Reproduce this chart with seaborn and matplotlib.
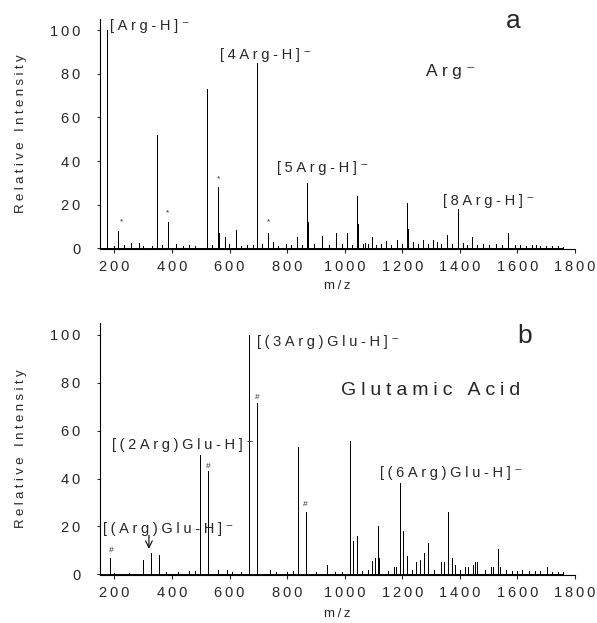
import numpy as np
import pandas as pd
import matplotlib
matplotlib.use('Agg')
import matplotlib.pyplot as plt
import seaborn as sns

sns.set_theme(style="ticks")
plt.rcParams['font.family'] = ['Liberation Sans', 'DejaVu Sans']

# panel a - Arg- cluster spectrum (m/z, relative intensity)
arg_mz = [151, 174, 175, 198, 212, 214, 232, 258, 286, 300, 330, 348, 349, 365,
          385, 387, 414, 440, 460, 480, 521, 522, 540, 561, 562, 585, 599, 622,
          640, 660, 680, 695, 696, 712, 734, 750, 770, 796, 815, 834, 850, 869,
          873, 893, 921, 945, 970, 990, 1008, 1025, 1044, 1047, 1062, 1070, 1080,
          1094, 1110, 1125, 1143, 1160, 1181, 1200, 1218, 1220, 1238, 1255, 1271,
          1290, 1308, 1321, 1335, 1355, 1372, 1392, 1410, 1425, 1442, 1460, 1480,
          1500, 1525, 1545, 1566, 1590, 1610, 1630, 1650, 1665, 1680, 1700, 1720,
          1740, 1760]
arg_int = [35, 100, 9, 1, 8, 6, 1.5, 2.5, 2.5, 1, 1, 52, 4, 1.5,
           9, 12, 2, 1, 1.5, 1, 73, 21, 1.5, 28, 7, 5, 2, 8.5,
           1, 1.5, 1.5, 85, 29, 2, 7, 3, 1, 2, 1.5, 5, 1.5, 30,
           12, 2, 5.5, 1.5, 7, 2, 7, 1.5, 24, 11, 2, 2.5, 2,
           5, 1.5, 2, 3.5, 1.5, 4, 2, 21, 9, 3, 2, 4,
           2, 4, 3, 2, 6, 2, 18, 2.5, 1.5, 5, 1.5, 2,
           1.5, 2, 1.5, 7, 1.5, 1.5, 1, 1.5, 1.5, 1, 1, 1,
           1, 0.8]

# panel b - Arg / glutamic acid cluster spectrum
glu_mz = [151, 185, 200, 250, 300, 328, 355, 380, 420, 460, 480, 497, 498,
          525, 526, 560, 590, 610, 640, 668, 669, 696, 697, 740, 760, 800,
          820, 838, 839, 866, 867, 900, 939, 966, 990, 1018, 1030, 1044, 1060,
          1080, 1094, 1105, 1117, 1118, 1150, 1172, 1178, 1191, 1192, 1204, 1216,
          1235, 1247, 1260, 1274, 1277, 1289, 1310, 1334, 1346, 1359, 1360, 1374,
          1383, 1400, 1418, 1430, 1445, 1452, 1460, 1487, 1507, 1516, 1532, 1541,
          1560, 1580, 1600, 1617, 1640, 1660, 1680, 1703, 1720, 1740, 1760]
glu_int = [57, 7, 0.5, 0.5, 6, 9, 8, 1, 0.8, 1.2, 1.5, 50, 20,
           43, 8, 2, 2, 1, 1, 100, 30, 71.5, 5, 2, 1, 1,
           1.5, 53, 16, 26, 8, 1, 4, 1, 1, 55.5, 14, 16, 1.5,
           2, 5.5, 7, 20, 7, 1.5, 3, 3, 38, 24, 18, 7.5,
           2, 5, 6, 8.5, 9, 13, 2, 5, 5, 26, 10, 7,
           4, 2, 3, 3, 4, 5, 5, 2, 3, 3, 10.5, 3,
           2, 1.5, 1.5, 2, 1.5, 1.5, 1.5, 3, 1, 1, 0.8]

# peak labels: (text, m/z, intensity) - left edge of text
arg_labels = [('[Arg-H]⁻', 185, 102), ('[4Arg-H]⁻', 567, 88.5),
              ('[5Arg-H]⁻', 765, 37), ('[8Arg-H]⁻', 1341, 21.5)]
glu_labels = [('[(3Arg)Glu-H]⁻', 695, 97), ('[(2Arg)Glu-H]⁻', 192, 54),
              ('[(Arg)Glu-H]⁻', 160, 19), ('[(6Arg)Glu-H]⁻', 1123, 42.5)]
arg_stars = [(223, 12), (383, 16.4), (560, 32), (737, 12)]
glu_hash = [(188, 10), (525, 45), (695, 74), (862, 29)]

xticks = [200, 400, 600, 800, 1000, 1200, 1400, 1600, 1800]
yticks = [0, 20, 40, 60, 80, 100]


def spaced(s, gap='\u2005'):
    return gap.join(s)


def sticks(mz, inten):
    rows = []
    for m, i in sorted(zip(mz, inten)):
        rows += [(m, 0), (m, i), (m, 0)]
    return pd.DataFrame(rows, columns=['mz', 'intensity'])


def draw_panel(ax, mz, inten, xlab_y):
    df = sticks(mz, inten)
    sns.lineplot(data=df, x='mz', y='intensity', sort=False, estimator=None,
                 color='black', lw=0.7, ax=ax)
    ax.set_xlim(150, 1800)
    ax.set_ylim(-0.3, 105)
    ax.set_xticks(xticks)
    ax.set_xticklabels([spaced(str(t), '\u2009') for t in xticks], fontsize=10.5)
    ax.set_yticks(yticks)
    ax.set_yticklabels([spaced(str(t), '\u2009') for t in yticks], fontsize=10.5)
    ax.tick_params(axis='x', length=3, width=0.8, pad=5, direction='out')
    ax.tick_params(axis='y', length=2, width=0.8, pad=12, direction='out')
    ax.set_xlabel(spaced('m/z', '\u2009'), fontsize=9.5)
    ax.xaxis.set_label_coords(0.5, xlab_y)
    ax.set_ylabel(spaced('Relative Intensity'), fontsize=9.5, labelpad=17)
    for s in ['left', 'bottom']:
        ax.spines[s].set_linewidth(0.8)
        ax.spines[s].set_color('black')
    sns.despine(ax=ax)


fig = plt.figure(figsize=(5.97, 6.23), dpi=100)
ax1 = fig.add_axes([0.1675, 0.6003, 0.7956, 0.369])
ax2 = fig.add_axes([0.1675, 0.077, 0.7956, 0.4045])

draw_panel(ax1, arg_mz, arg_int, -0.135)
draw_panel(ax2, glu_mz, glu_int, -0.13)

for txt, x, y in arg_labels:
    ax1.text(x, y, spaced(txt), fontsize=10.5, ha='left', va='center', clip_on=False)
for x, y in arg_stars:
    ax1.text(x, y, '*', fontsize=6, ha='center', va='center')
ax1.text(1584, 104, 'a', fontsize=19, ha='center', va='center', clip_on=False)
ax1.text(1369, 81, spaced('Arg⁻'), fontsize=12.5, ha='center', va='center')

for txt, x, y in glu_labels:
    ax2.text(x, y, spaced(txt), fontsize=10.5, ha='left', va='center', clip_on=False)
for x, y in glu_hash:
    ax2.text(x, y, '#', fontsize=6, ha='center', va='center')
ax2.annotate('', xy=(320, 9.5), xytext=(320, 17.5),
             arrowprops=dict(arrowstyle='->', lw=0.8, color='black'))
ax2.text(1626, 99.6, 'b', fontsize=19, ha='center', va='center', clip_on=False)
ax2.text(1300, 77, spaced('Glutamic Acid'), fontsize=14, ha='center', va='center')

fig.savefig('out.png', dpi=100, facecolor='white')
